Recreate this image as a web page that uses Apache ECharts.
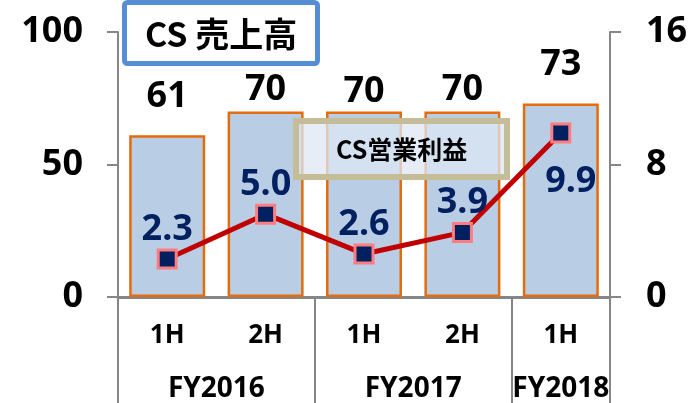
<!DOCTYPE html>
<html>
<head>
<meta charset="utf-8">
<script src="https://cdn.jsdelivr.net/npm/echarts@6/dist/echarts.min.js"></script>
<style>
  html, body { margin: 0; padding: 0; background: #fff; }
  #main { width: 699px; height: 403px; }
</style>
</head>
<body>
<div id="main"></div>
<script>
// データ
var categories = ['1H', '2H', '1H', '2H', '1H'];
var fiscalYears = ['FY2016', 'FY2017', 'FY2018'];
var yearSpans = [2, 2, 1];            // 各年度が何カテゴリ分か
var salesValues = [61, 70, 70, 70, 73];       // CS 売上高 (左軸)
var profitValues = [2.3, 5.0, 2.6, 3.9, 9.9]; // CS営業利益 (右軸)
var salesAxis = { min: 0, max: 100, interval: 50 };
var profitAxis = { min: 0, max: 16, interval: 8 };

var numFont = "'Noto Sans', 'Noto Sans CJK JP', sans-serif";
var jpFont = "'Noto Sans CJK JP', sans-serif";
var axisGray = '#868686';

// 年度ラベル用の半カテゴリ刻みの軸
var yearAxisData = [];
var yearTickAt = { 0: true };
var pos = 0;
var yearLabelAt = {};
for (var i = 0; i < fiscalYears.length; i++) {
    yearLabelAt[pos + yearSpans[i]] = fiscalYears[i];
    pos += 2 * yearSpans[i];
    yearTickAt[pos] = true;
}
for (var k = 0; k <= pos; k++) {
    yearAxisData.push(yearLabelAt[k] || '');
}

// ラベル位置の微調整
var barLabelDist = [21, 4, 2, 4, 21];
var barData = salesValues.map(function (v, idx) {
    return { value: v, label: { distance: barLabelDist[idx] } };
});
var lineData = profitValues.map(function (v, idx) {
    if (idx === profitValues.length - 1) {
        return { value: v, label: { position: 'bottom', distance: 20, offset: [10, 0] } };
    }
    return v;
});

var myChart = echarts.init(document.getElementById('main'));
myChart.setOption({
    animation: false,
    title: [
        {
            text: 'CS 売上高',
            left: 124,
            top: 2,
            padding: [15, 21, 13, 21],
            borderColor: '#558ED5',
            borderWidth: 5,
            borderRadius: 3,
            backgroundColor: '#fff',
            textStyle: { fontFamily: jpFont, fontSize: 34, fontWeight: 'bold', color: '#000' }
        },
        {
            text: 'CS営業利益',
            left: 296,
            top: 121,
            padding: [16, 40, 15, 40],
            borderColor: '#C4BD97',
            borderWidth: 6,
            backgroundColor: 'rgba(222,231,243,0.75)',
            textStyle: { fontFamily: jpFont, fontSize: 25, fontWeight: 'bold', color: '#000' }
        }
    ],
    grid: { left: 118, right: 89, top: 32, bottom: 105 },
    xAxis: [
        {
            type: 'category',
            data: categories,
            axisLine: { lineStyle: { color: axisGray, width: 3 } },
            axisTick: { length: 54, lineStyle: { color: axisGray, width: 2 } },
            axisLabel: { margin: 26, color: '#000', fontFamily: numFont, fontSize: 26, fontWeight: 'bold' }
        },
        {
            type: 'category',
            position: 'bottom',
            boundaryGap: false,
            data: yearAxisData,
            axisLine: { show: false },
            axisTick: {
                length: 110,
                interval: function (index) { return !!yearTickAt[index]; },
                lineStyle: { color: axisGray, width: 2 }
            },
            axisLabel: {
                margin: 78,
                interval: function (index, value) { return value !== ''; },
                color: '#000', fontFamily: numFont, fontSize: 28, fontWeight: 'bold'
            }
        }
    ],
    yAxis: [
        {
            type: 'value',
            min: salesAxis.min, max: salesAxis.max, interval: salesAxis.interval,
            splitLine: { show: false },
            axisLine: { show: true, lineStyle: { color: axisGray, width: 2 } },
            axisTick: { show: true, length: 11, lineStyle: { color: axisGray, width: 2 } },
            axisLabel: { margin: 35, color: '#000', fontFamily: numFont, fontSize: 36, fontWeight: 'bold' }
        },
        {
            type: 'value',
            min: profitAxis.min, max: profitAxis.max, interval: profitAxis.interval,
            splitLine: { show: false },
            axisLine: { show: true, lineStyle: { color: axisGray, width: 2 } },
            axisTick: { show: true, length: 11, lineStyle: { color: axisGray, width: 2 } },
            axisLabel: { margin: 36, color: '#000', fontFamily: numFont, fontSize: 36, fontWeight: 'bold' }
        }
    ],
    series: [
        {
            name: 'CS 売上高',
            type: 'bar',
            xAxisIndex: 0,
            yAxisIndex: 0,
            barWidth: 76,
            data: barData,
            itemStyle: { color: '#B9CDE5', borderColor: '#E46C0A', borderWidth: 2.5 },
            label: {
                show: true, position: 'top', color: '#000',
                fontFamily: numFont, fontSize: 36, fontWeight: 'bold'
            }
        },
        {
            name: 'CS営業利益',
            type: 'line',
            xAxisIndex: 0,
            yAxisIndex: 1,
            data: lineData,
            symbol: 'rect',
            symbolSize: 18,
            lineStyle: { color: '#C00000', width: 5 },
            itemStyle: { color: '#002060', borderColor: '#FF7C80', borderWidth: 3 },
            label: {
                show: true, position: 'top', distance: 1, color: '#002060',
                fontFamily: numFont, fontSize: 36, fontWeight: 'bold',
                formatter: function (p) { return p.value.toFixed(1); }
            },
            z: 5
        }
    ]
});
</script>
</body>
</html>
